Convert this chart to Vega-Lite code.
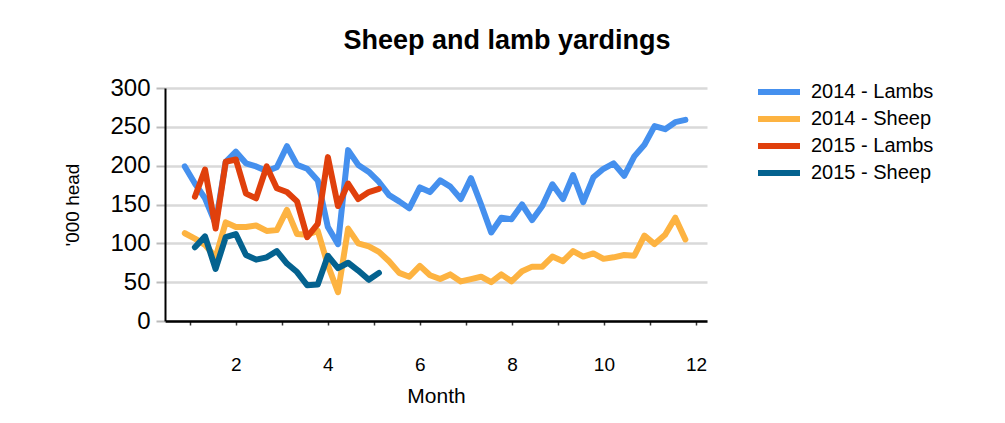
{
  "$schema": "https://vega.github.io/schema/vega-lite/v6.json",
  "autosize": {"type": "none"},
  "padding": {"left": 165, "top": 88, "right": 298, "bottom": 102},
  "width": 542,
  "height": 233,
  "background": "white",
  "title": {
    "text": "Sheep and lamb yardings",
    "font": "Liberation Sans",
    "fontSize": 27,
    "fontWeight": "bold",
    "color": "black",
    "anchor": "middle",
    "frame": "group",
    "dx": 71,
    "offset": 21
  },
  "config": {
    "view": {"stroke": null},
    "font": "Liberation Sans"
  },
  "datasets": {
    "rows": [
      {"series": "2014 - Lambs", "month": 0.89, "value": 199},
      {"series": "2014 - Lambs", "month": 1.11, "value": 177},
      {"series": "2014 - Lambs", "month": 1.33, "value": 158},
      {"series": "2014 - Lambs", "month": 1.56, "value": 125},
      {"series": "2014 - Lambs", "month": 1.78, "value": 205},
      {"series": "2014 - Lambs", "month": 2.00, "value": 218},
      {"series": "2014 - Lambs", "month": 2.22, "value": 203},
      {"series": "2014 - Lambs", "month": 2.44, "value": 199},
      {"series": "2014 - Lambs", "month": 2.67, "value": 193},
      {"series": "2014 - Lambs", "month": 2.89, "value": 198},
      {"series": "2014 - Lambs", "month": 3.11, "value": 225},
      {"series": "2014 - Lambs", "month": 3.33, "value": 201},
      {"series": "2014 - Lambs", "month": 3.55, "value": 196},
      {"series": "2014 - Lambs", "month": 3.78, "value": 181},
      {"series": "2014 - Lambs", "month": 4.00, "value": 121},
      {"series": "2014 - Lambs", "month": 4.22, "value": 99},
      {"series": "2014 - Lambs", "month": 4.44, "value": 220},
      {"series": "2014 - Lambs", "month": 4.66, "value": 201},
      {"series": "2014 - Lambs", "month": 4.89, "value": 192},
      {"series": "2014 - Lambs", "month": 5.11, "value": 179},
      {"series": "2014 - Lambs", "month": 5.33, "value": 162},
      {"series": "2014 - Lambs", "month": 5.55, "value": 154},
      {"series": "2014 - Lambs", "month": 5.77, "value": 145},
      {"series": "2014 - Lambs", "month": 6.00, "value": 172},
      {"series": "2014 - Lambs", "month": 6.22, "value": 166},
      {"series": "2014 - Lambs", "month": 6.44, "value": 181},
      {"series": "2014 - Lambs", "month": 6.66, "value": 173},
      {"series": "2014 - Lambs", "month": 6.89, "value": 157},
      {"series": "2014 - Lambs", "month": 7.11, "value": 184},
      {"series": "2014 - Lambs", "month": 7.33, "value": 150},
      {"series": "2014 - Lambs", "month": 7.55, "value": 114},
      {"series": "2014 - Lambs", "month": 7.77, "value": 133},
      {"series": "2014 - Lambs", "month": 7.99, "value": 131},
      {"series": "2014 - Lambs", "month": 8.22, "value": 150},
      {"series": "2014 - Lambs", "month": 8.44, "value": 130},
      {"series": "2014 - Lambs", "month": 8.66, "value": 148},
      {"series": "2014 - Lambs", "month": 8.88, "value": 176},
      {"series": "2014 - Lambs", "month": 9.11, "value": 157},
      {"series": "2014 - Lambs", "month": 9.33, "value": 188},
      {"series": "2014 - Lambs", "month": 9.55, "value": 153},
      {"series": "2014 - Lambs", "month": 9.77, "value": 185},
      {"series": "2014 - Lambs", "month": 9.99, "value": 196},
      {"series": "2014 - Lambs", "month": 10.21, "value": 203},
      {"series": "2014 - Lambs", "month": 10.44, "value": 187},
      {"series": "2014 - Lambs", "month": 10.66, "value": 212},
      {"series": "2014 - Lambs", "month": 10.88, "value": 227},
      {"series": "2014 - Lambs", "month": 11.10, "value": 251},
      {"series": "2014 - Lambs", "month": 11.33, "value": 247},
      {"series": "2014 - Lambs", "month": 11.55, "value": 256},
      {"series": "2014 - Lambs", "month": 11.77, "value": 259},
      {"series": "2014 - Sheep", "month": 0.89, "value": 113},
      {"series": "2014 - Sheep", "month": 1.11, "value": 106},
      {"series": "2014 - Sheep", "month": 1.33, "value": 98},
      {"series": "2014 - Sheep", "month": 1.56, "value": 82},
      {"series": "2014 - Sheep", "month": 1.78, "value": 127},
      {"series": "2014 - Sheep", "month": 2.00, "value": 121},
      {"series": "2014 - Sheep", "month": 2.22, "value": 121},
      {"series": "2014 - Sheep", "month": 2.44, "value": 123},
      {"series": "2014 - Sheep", "month": 2.67, "value": 116},
      {"series": "2014 - Sheep", "month": 2.89, "value": 117},
      {"series": "2014 - Sheep", "month": 3.11, "value": 143},
      {"series": "2014 - Sheep", "month": 3.33, "value": 112},
      {"series": "2014 - Sheep", "month": 3.55, "value": 111},
      {"series": "2014 - Sheep", "month": 3.78, "value": 116},
      {"series": "2014 - Sheep", "month": 4.00, "value": 72},
      {"series": "2014 - Sheep", "month": 4.22, "value": 37},
      {"series": "2014 - Sheep", "month": 4.44, "value": 119},
      {"series": "2014 - Sheep", "month": 4.66, "value": 100},
      {"series": "2014 - Sheep", "month": 4.89, "value": 96},
      {"series": "2014 - Sheep", "month": 5.11, "value": 89},
      {"series": "2014 - Sheep", "month": 5.33, "value": 77},
      {"series": "2014 - Sheep", "month": 5.55, "value": 62},
      {"series": "2014 - Sheep", "month": 5.77, "value": 57},
      {"series": "2014 - Sheep", "month": 6.00, "value": 71},
      {"series": "2014 - Sheep", "month": 6.22, "value": 59},
      {"series": "2014 - Sheep", "month": 6.44, "value": 54},
      {"series": "2014 - Sheep", "month": 6.66, "value": 60},
      {"series": "2014 - Sheep", "month": 6.89, "value": 51},
      {"series": "2014 - Sheep", "month": 7.11, "value": 54},
      {"series": "2014 - Sheep", "month": 7.33, "value": 57},
      {"series": "2014 - Sheep", "month": 7.55, "value": 50},
      {"series": "2014 - Sheep", "month": 7.77, "value": 60},
      {"series": "2014 - Sheep", "month": 7.99, "value": 51},
      {"series": "2014 - Sheep", "month": 8.22, "value": 64},
      {"series": "2014 - Sheep", "month": 8.44, "value": 70},
      {"series": "2014 - Sheep", "month": 8.66, "value": 70},
      {"series": "2014 - Sheep", "month": 8.88, "value": 83},
      {"series": "2014 - Sheep", "month": 9.11, "value": 77},
      {"series": "2014 - Sheep", "month": 9.33, "value": 90},
      {"series": "2014 - Sheep", "month": 9.55, "value": 83},
      {"series": "2014 - Sheep", "month": 9.77, "value": 87},
      {"series": "2014 - Sheep", "month": 9.99, "value": 80},
      {"series": "2014 - Sheep", "month": 10.21, "value": 82},
      {"series": "2014 - Sheep", "month": 10.44, "value": 85},
      {"series": "2014 - Sheep", "month": 10.66, "value": 84},
      {"series": "2014 - Sheep", "month": 10.88, "value": 110},
      {"series": "2014 - Sheep", "month": 11.10, "value": 99},
      {"series": "2014 - Sheep", "month": 11.33, "value": 111},
      {"series": "2014 - Sheep", "month": 11.55, "value": 133},
      {"series": "2014 - Sheep", "month": 11.77, "value": 105},
      {"series": "2015 - Lambs", "month": 1.11, "value": 160},
      {"series": "2015 - Lambs", "month": 1.33, "value": 195},
      {"series": "2015 - Lambs", "month": 1.56, "value": 119},
      {"series": "2015 - Lambs", "month": 1.78, "value": 205},
      {"series": "2015 - Lambs", "month": 2.00, "value": 208},
      {"series": "2015 - Lambs", "month": 2.22, "value": 164},
      {"series": "2015 - Lambs", "month": 2.44, "value": 158},
      {"series": "2015 - Lambs", "month": 2.67, "value": 199},
      {"series": "2015 - Lambs", "month": 2.89, "value": 171},
      {"series": "2015 - Lambs", "month": 3.11, "value": 166},
      {"series": "2015 - Lambs", "month": 3.33, "value": 154},
      {"series": "2015 - Lambs", "month": 3.55, "value": 108},
      {"series": "2015 - Lambs", "month": 3.78, "value": 125},
      {"series": "2015 - Lambs", "month": 4.00, "value": 211},
      {"series": "2015 - Lambs", "month": 4.22, "value": 148},
      {"series": "2015 - Lambs", "month": 4.44, "value": 177},
      {"series": "2015 - Lambs", "month": 4.66, "value": 157},
      {"series": "2015 - Lambs", "month": 4.89, "value": 166},
      {"series": "2015 - Lambs", "month": 5.11, "value": 170},
      {"series": "2015 - Sheep", "month": 1.11, "value": 95},
      {"series": "2015 - Sheep", "month": 1.33, "value": 109},
      {"series": "2015 - Sheep", "month": 1.56, "value": 67},
      {"series": "2015 - Sheep", "month": 1.78, "value": 108},
      {"series": "2015 - Sheep", "month": 2.00, "value": 112},
      {"series": "2015 - Sheep", "month": 2.22, "value": 85},
      {"series": "2015 - Sheep", "month": 2.44, "value": 79},
      {"series": "2015 - Sheep", "month": 2.67, "value": 82},
      {"series": "2015 - Sheep", "month": 2.89, "value": 90},
      {"series": "2015 - Sheep", "month": 3.11, "value": 74},
      {"series": "2015 - Sheep", "month": 3.33, "value": 63},
      {"series": "2015 - Sheep", "month": 3.55, "value": 46},
      {"series": "2015 - Sheep", "month": 3.78, "value": 47},
      {"series": "2015 - Sheep", "month": 4.00, "value": 84},
      {"series": "2015 - Sheep", "month": 4.22, "value": 68},
      {"series": "2015 - Sheep", "month": 4.44, "value": 75},
      {"series": "2015 - Sheep", "month": 4.66, "value": 65},
      {"series": "2015 - Sheep", "month": 4.89, "value": 53},
      {"series": "2015 - Sheep", "month": 5.11, "value": 62}
    ]
  },
  "data": {"name": "rows"},
  "mark": {"type": "line", "strokeWidth": 6, "strokeJoin": "round", "strokeCap": "round"},
  "encoding": {
    "x": {
      "field": "month",
      "type": "quantitative",
      "scale": {"domain": [0.46, 12.24], "nice": false, "zero": false},
      "axis": {
        "title": "Month",
        "values": [1, 2, 3, 4, 5, 6, 7, 8, 9, 10, 11, 12],
        "labelExpr": "datum.value % 2 == 0 ? datum.label : ''",
        "grid": false,
        "domainColor": "black",
        "domainWidth": 2.5,
        "tickColor": "#333333",
        "tickSize": 4,
        "tickWidth": 1.5,
        "labelFontSize": 19,
        "labelColor": "black",
        "labelPadding": 30,
        "labelFont": "Liberation Sans",
        "titleFont": "Liberation Sans",
        "titleFontSize": 21,
        "titleFontWeight": "normal",
        "titleColor": "black",
        "titlePadding": 11
      }
    },
    "y": {
      "field": "value",
      "type": "quantitative",
      "scale": {"domain": [0, 300], "nice": false},
      "axis": {
        "title": "'000 head",
        "values": [0, 50, 100, 150, 200, 250, 300],
        "grid": true,
        "gridColor": "#d9d9d9",
        "gridWidth": 2.5,
        "domainColor": "black",
        "domainWidth": 2,
        "tickColor": "#bbbbbb",
        "tickSize": 9,
        "tickWidth": 2,
        "labelFontSize": 24,
        "labelColor": "black",
        "labelPadding": 6,
        "labelFont": "Liberation Sans",
        "titleFont": "Liberation Sans",
        "titleFontSize": 19,
        "titleFontWeight": "normal",
        "titleColor": "black",
        "titlePadding": 27
      }
    },
    "color": {
      "field": "series",
      "type": "nominal",
      "scale": {
        "domain": ["2014 - Lambs", "2014 - Sheep", "2015 - Lambs", "2015 - Sheep"],
        "range": ["#4590EE", "#FDB341", "#E0400C", "#04628F"]
      },
      "legend": {
        "title": null,
        "orient": "none",
        "legendX": 604,
        "legendY": -6,
        "symbolType": "M-3,0H3",
        "symbolSize": 196,
        "symbolStrokeWidth": 6,
        "labelFontSize": 20,
        "labelFont": "Liberation Sans",
        "labelColor": "black",
        "labelOffset": 22,
        "rowPadding": 3
      }
    }
  }
}
